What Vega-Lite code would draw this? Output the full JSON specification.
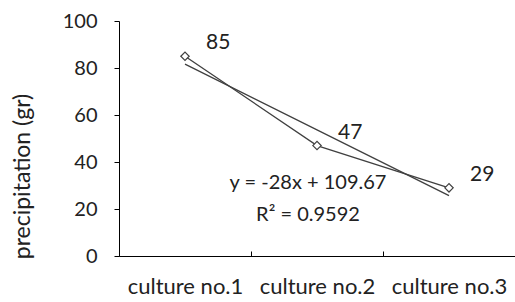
{
  "$schema": "https://vega.github.io/schema/vega-lite/v6.json",
  "width": 396,
  "height": 235,
  "autosize": {"type": "none"},
  "padding": {"left": 119, "top": 21, "right": 0, "bottom": 46},
  "background": "white",
  "config": {
    "view": {"stroke": null},
    "font": "Lato",
    "axis": {"domainColor": "#000", "tickColor": "#000", "labelColor": "#222", "grid": false, "labelFont": "Lato", "titleFont": "Lato"}
  },
  "data": {
    "values": [
      {"culture": "culture no.1", "precip": 85, "trend": 81.67},
      {"culture": "culture no.2", "precip": 47, "trend": 53.67},
      {"culture": "culture no.3", "precip": 29, "trend": 25.67}
    ]
  },
  "encoding": {
    "x": {
      "field": "culture",
      "type": "nominal",
      "sort": null,
      "scale": {"paddingInner": 0, "paddingOuter": 0},
      "axis": {
        "title": null,
        "labelAngle": 0,
        "labelFontSize": 22,
        "tickBand": "extent",
        "tickSize": -5,
        "labelPadding": 35,
        "domainWidth": 1,
        "labelBaseline": "middle"
      }
    }
  },
  "layer": [
    {
      "mark": {"type": "line", "color": "#404040", "strokeWidth": 1.3},
      "encoding": {
        "y": {
          "field": "trend",
          "type": "quantitative",
          "scale": {"domain": [0, 100], "nice": false},
          "axis": {
            "values": [0, 20, 40, 60, 80, 100],
            "labelFontSize": 20,
            "tickSize": 5,
            "labelPadding": 17,
            "title": "precipitation (gr)",
            "titleFontSize": 23,
            "titleFontWeight": "normal",
            "titleColor": "#222",
            "titleAngle": -90,
            "titleX": -97,
            "titleY": 155,
            "titleAlign": "center",
            "titleBaseline": "middle"
          }
        }
      }
    },
    {
      "mark": {"type": "line", "color": "#404040", "strokeWidth": 1.3},
      "encoding": {"y": {"field": "precip", "type": "quantitative"}}
    },
    {
      "mark": {"type": "point", "shape": "diamond", "filled": true, "fill": "white", "stroke": "#404040", "strokeWidth": 1.2, "size": 70, "opacity": 1},
      "encoding": {"y": {"field": "precip", "type": "quantitative"}}
    },
    {
      "mark": {"type": "text", "align": "left", "baseline": "middle", "dx": 21, "dy": -13, "fontSize": 21, "color": "#222"},
      "encoding": {
        "y": {"field": "precip", "type": "quantitative"},
        "text": {"field": "precip", "type": "quantitative"}
      }
    },
    {
      "data": {
        "values": [
          {"culture": "culture no.2", "v": 31, "label": "y = -28x + 109.67"},
          {"culture": "culture no.2", "v": 17.5, "label": "R² = 0.9592"}
        ]
      },
      "mark": {"type": "text", "align": "center", "baseline": "middle", "dx": -9, "fontSize": 20, "color": "#222"},
      "encoding": {
        "y": {"field": "v", "type": "quantitative"},
        "text": {"field": "label", "type": "nominal"}
      }
    }
  ]
}
